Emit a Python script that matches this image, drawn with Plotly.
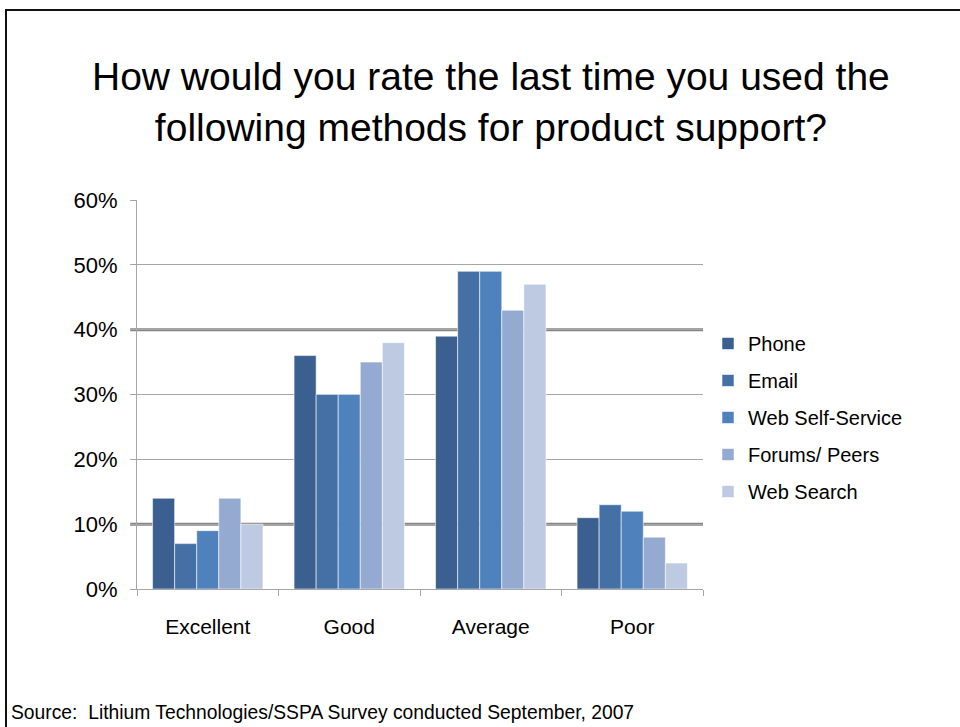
import plotly.graph_objects as go

# Survey ratings (percent of respondents) by support method
categories = ["Excellent", "Good", "Average", "Poor"]
phone = [14, 36, 39, 11]
email = [7, 30, 49, 13]
web_self_service = [9, 30, 49, 12]
forums_peers = [14, 35, 43, 8]
web_search = [10, 38, 47, 4]

series_names = ["Phone", "Email", "Web Self-Service", "Forums/ Peers", "Web Search"]
series_values = [phone, email, web_self_service, forums_peers, web_search]
series_colors = ["#3B5F8F", "#4470A6", "#4F81BD", "#94AAD1", "#BDCAE2"]

y_ticks = [0, 10, 20, 30, 40, 50, 60]
y_tick_text = [f"{v}%" for v in y_ticks]
emphasised_levels = [10, 40]

FONT = "Liberation Sans, Arial, sans-serif"

W, H = 960, 727
L, R, T, B = 137, 703, 200, 589  # plot area edges in pixels


def px_x(px):
    return (px - L) / (R - L)


def px_y(py):
    return (B - py) / (B - T)


fig = go.Figure()
for i, (name, vals, col) in enumerate(zip(series_names, series_values, series_colors)):
    fig.add_trace(go.Bar(
        x=categories, y=vals, name=name, legendgroup=f"g{i}",
        marker=dict(color=col, line=dict(color="rgba(255,255,255,0.7)", width=0.8)),
    ))

shapes = []
for lvl in emphasised_levels:
    shapes.append(dict(type="line", xref="paper", yref="y", x0=-0.012, x1=1, y0=lvl, y1=lvl,
                       line=dict(color="#858585", width=3), layer="below"))
# slide frame
shapes.append(dict(type="rect", xref="paper", yref="paper",
                   x0=px_x(6), x1=px_x(975), y0=px_y(10), y1=px_y(740),
                   line=dict(color="#111111", width=2), fillcolor="rgba(0,0,0,0)", layer="below"))

fig.update_layout(
    width=W, height=H,
    margin=dict(l=L, r=W - R, t=T, b=H - B, pad=0),
    paper_bgcolor="white", plot_bgcolor="white",
    barmode="group", bargap=0.22, bargroupgap=0,
    font=dict(family=FONT, color="black"),
    showlegend=True,
    legend=dict(x=px_x(708), y=px_y(324), xanchor="left", yanchor="top",
                font=dict(size=20, family=FONT, color="black"),
                traceorder="grouped", tracegroupgap=8, itemwidth=30,
                bgcolor="rgba(0,0,0,0)"),
    shapes=shapes,
    annotations=[
        dict(text="How would you rate the last time you used the<br>following methods for product support?",
             xref="paper", yref="paper", x=px_x(491), y=px_y(102),
             xanchor="center", yanchor="middle", showarrow=False,
             font=dict(size=39, family=FONT, color="black")),
        dict(text="Source:  Lithium Technologies/SSPA Survey conducted September, 2007",
             xref="paper", yref="paper", x=px_x(9), y=px_y(712),
             xanchor="left", yanchor="middle", showarrow=False,
             font=dict(size=19.3, family=FONT, color="black")),
    ],
)

fig.update_yaxes(
    range=[0, 60], tickvals=y_ticks, ticktext=y_tick_text,
    showgrid=True, gridcolor="#A6A6A6", gridwidth=1,
    showline=True, linecolor="#A6A6A6", linewidth=1,
    ticks="outside", ticklen=6, tickcolor="#A6A6A6",
    ticklabelstandoff=8,
    tickfont=dict(size=22, family=FONT, color="black"),
    zeroline=False, fixedrange=True,
)
fig.update_xaxes(
    showline=True, linecolor="#A6A6A6", linewidth=1,
    ticks="outside", tickson="boundaries", ticklen=6, tickcolor="#A6A6A6",
    ticklabelstandoff=19,
    tickfont=dict(size=21, family=FONT, color="black"),
    showgrid=False,
)

fig.write_html("out.html")
